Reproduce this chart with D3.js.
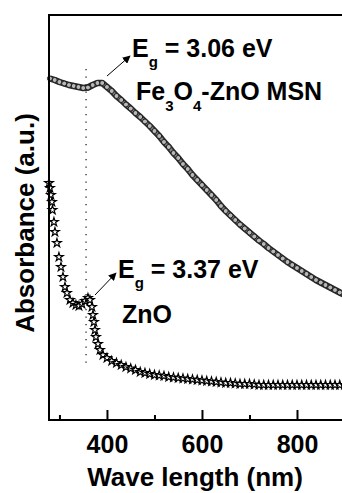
<!DOCTYPE html>
<html>
<head>
<meta charset="utf-8">
<script src="https://cdn.jsdelivr.net/npm/d3@7"></script>
<style>
  body { margin: 0; background: #fff; }
  svg { display: block; }
  text { font-family: "Liberation Sans", Arial, sans-serif; font-weight: bold; fill: #000; }
</style>
</head>
<body>
<div id="chart"></div>
<script>
// Fe3O4-ZnO MSN, sampled every 10 nm (a.u.)
let feWave = d3.range(280, 901, 10)
let feAbs = [3.415, 3.40, 3.38, 3.365, 3.35, 3.34, 3.33, 3.32, 3.325, 3.35,
  3.37, 3.37, 3.33, 3.29, 3.24, 3.20, 3.155, 3.115, 3.07, 3.03,
  2.985, 2.94, 2.89, 2.84, 2.78, 2.73, 2.67, 2.62, 2.56, 2.51,
  2.45, 2.40, 2.35, 2.30, 2.25, 2.20, 2.14, 2.09, 2.045, 2.00,
  1.955, 1.915, 1.875, 1.835, 1.795, 1.76, 1.72, 1.685, 1.65, 1.615,
  1.58, 1.55, 1.52, 1.49, 1.46, 1.43, 1.40, 1.375, 1.35, 1.325,
  1.30, 1.275, 1.25]

// ZnO
let znoWave = [278, 280, 282.1, 284.2, 285.3, 288.4, 290.5, 294.7, 298.9, 303.2,
  307.4, 311.6, 315.8, 322.1, 328.4, 334.7, 341.1, 347.4, 353.7, 360,
  364.2, 368.4, 370.5, 372.6, 374.7, 376.8, 381.1, 385.3, 391.6, 400,
  410, 420, 430, 440, 450, 460, 470, 480, 490, 500,
  510, 520, 530, 540, 550, 560, 570, 580, 590, 600,
  610, 620, 630, 640, 650, 660, 670, 680, 690, 700,
  710, 720, 730, 740, 750, 760, 770, 780, 790, 800,
  810, 820, 830, 840, 850, 860, 870, 880, 890, 900]
let znoAbs = [2.37, 2.32, 2.25, 2.18, 2.10, 1.98, 1.88, 1.77, 1.63, 1.53,
  1.43, 1.33, 1.27, 1.20, 1.17, 1.15, 1.14, 1.16, 1.19, 1.22,
  1.20, 1.13, 1.05, 0.98, 0.90, 0.83, 0.76, 0.70, 0.65, 0.62,
  0.59, 0.57, 0.55, 0.53, 0.515, 0.50, 0.48, 0.47, 0.46, 0.45,
  0.445, 0.44, 0.43, 0.425, 0.42, 0.415, 0.41, 0.405, 0.40, 0.395,
  0.39, 0.385, 0.38, 0.375, 0.37, 0.37, 0.365, 0.36, 0.36, 0.36,
  0.355, 0.35, 0.35, 0.35, 0.35, 0.35, 0.35, 0.35, 0.35, 0.35,
  0.35, 0.35, 0.35, 0.35, 0.35, 0.35, 0.35, 0.35, 0.35, 0.35]

let majorTicks = [400, 600, 800]
let minorTicks = [300, 500, 700, 900]
let bandEdge = 356

let fe = feWave.map((w, i) => ({w: w, a: feAbs[i]}))
let zno = znoWave.map((w, i) => ({w: w, a: znoAbs[i]}))

let width = 342, height = 493

let svg = d3.select('#chart')
    .append('svg')
    .attr('width', width)
    .attr('height', height)
    .style('background', '#fff')

let x = d3.scaleLinear().domain([278, 900]).range([49, 344.5])
let y = d3.scaleLinear().domain([0, 4.05]).range([420, 15])

//dotted band-edge line
svg.append('line')
    .attr('x1', x(bandEdge))
    .attr('x2', x(bandEdge))
    .attr('y1', 69)
    .attr('y2', 363)
    .style('stroke', '#222')
    .style('stroke-width', 1.3)
    .style('stroke-dasharray', '1.3,6.2')

//Fe3O4-ZnO curve: dark band with beads
let line = d3.line().x(d => x(d.w)).y(d => y(d.a))
svg.append('path')
    .datum(fe)
    .attr('d', line)
    .style('fill', 'none')
    .style('stroke', '#2a2a2a')
    .style('stroke-width', 6.5)
    .style('stroke-linejoin', 'round')
svg.append('path')
    .datum(fe)
    .attr('d', line)
    .style('fill', 'none')
    .style('stroke', '#888')
    .style('stroke-width', 3)
svg.selectAll('.fe')
    .data(fe)
    .enter().append('circle')
    .attr('class', 'fe')
    .attr('cx', d => x(d.w))
    .attr('cy', d => y(d.a))
    .attr('r', 2.5)
    .style('fill', '#b8b8b8')
    .style('stroke', '#1a1a1a')
    .style('stroke-width', 1)

//ZnO curve: hollow stars
let star = d3.symbol().type(d3.symbolStar).size(24)
svg.selectAll('.zno')
    .data(zno)
    .enter().append('path')
    .attr('class', 'zno')
    .attr('d', star)
    .attr('transform', d => `translate(${x(d.w)},${y(d.a)})`)
    .style('fill', '#fff')
    .style('stroke', '#000')
    .style('stroke-width', 1.15)

//axes
let gx = svg.append('g').attr('transform', 'translate(0,420)')
gx.call(d3.axisBottom(x).tickValues(minorTicks).tickSize(-5).tickSizeOuter(0).tickFormat(''))
gx.select('.domain').remove()
let gx2 = svg.append('g').attr('transform', 'translate(0,420)')
gx2.call(d3.axisBottom(x).tickValues(majorTicks).tickSize(-10).tickSizeOuter(0).tickPadding(15))
gx2.select('.domain').remove()
svg.selectAll('.tick line').style('stroke', '#000').style('stroke-width', 2)
gx2.selectAll('.tick text')
    .style('font-size', '25px')
    .style('font-family', '"Liberation Sans", Arial, sans-serif')
    .style('font-weight', 'bold')
    .style('fill', '#000')

//frame
svg.append('path')
    .attr('d', `M${x(900)},15 L49,15 L49,420 L${x(900)},420`)
    .style('fill', 'none')
    .style('stroke', '#000')
    .style('stroke-width', 2)

//axis titles
svg.append('text')
    .attr('x', 195)
    .attr('y', 486)
    .attr('text-anchor', 'middle')
    .style('font-size', '26px')
    .text('Wave length (nm)')
svg.append('text')
    .attr('transform', 'translate(34,223) rotate(-90)')
    .attr('text-anchor', 'middle')
    .style('font-size', '26px')
    .text('Absorbance (a.u.)')

//annotations
svg.append('defs').append('marker')
    .attr('id', 'arr')
    .attr('viewBox', '0 0 10 10')
    .attr('refX', 9)
    .attr('refY', 5)
    .attr('markerWidth', 8)
    .attr('markerHeight', 8)
    .attr('markerUnits', 'userSpaceOnUse')
    .attr('orient', 'auto')
    .append('path')
    .attr('d', 'M0,0 L10,5 L0,10 Z')
    .style('fill', '#000')

function eg(tx, ty, val) {
  let t = svg.append('text').attr('x', tx).attr('y', ty).style('font-size', '25px')
  t.append('tspan').text('E')
  t.append('tspan').attr('dy', 10).style('font-size', '15px').text('g')
  t.append('tspan').attr('dy', -10).text(' = ' + val + ' eV')
}
eg(132, 57, '3.06')
eg(118, 278, '3.37')

let lab = svg.append('text').attr('x', 136).attr('y', 100).style('font-size', '25px')
lab.append('tspan').text('Fe')
lab.append('tspan').attr('dy', 11).style('font-size', '15px').text('3')
lab.append('tspan').attr('dy', -11).text('O')
lab.append('tspan').attr('dy', 11).style('font-size', '15px').text('4')
lab.append('tspan').attr('dy', -11).text('-ZnO MSN')

svg.append('text').attr('x', 122).attr('y', 323).style('font-size', '25px').text('ZnO')

svg.append('line')
    .attr('x1', 107).attr('y1', 76).attr('x2', 130).attr('y2', 56)
    .style('stroke', '#000').style('stroke-width', 1)
    .attr('marker-end', 'url(#arr)')
svg.append('line')
    .attr('x1', 95).attr('y1', 295).attr('x2', 116).attr('y2', 273)
    .style('stroke', '#000').style('stroke-width', 1)
    .attr('marker-end', 'url(#arr)')
</script>
</body>
</html>
